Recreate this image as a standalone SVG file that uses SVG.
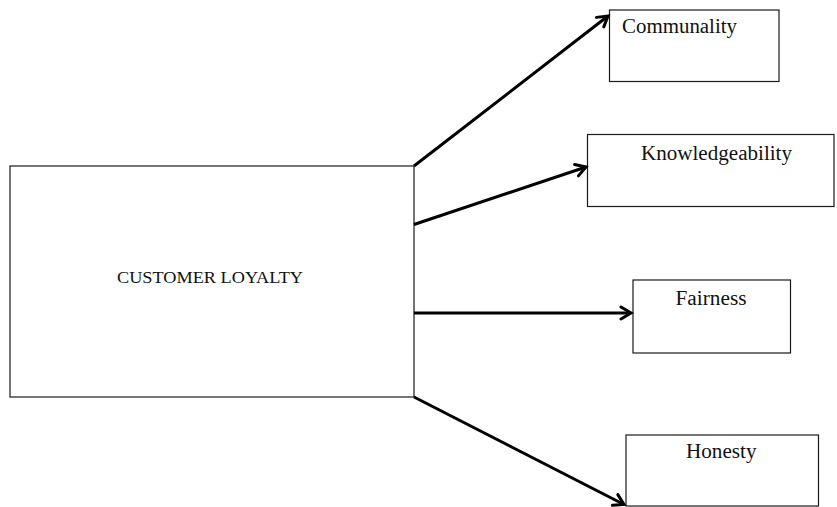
<svg xmlns="http://www.w3.org/2000/svg" width="837" height="507" viewBox="0 0 837 507">
  <style>
    .box { fill: #ffffff; stroke: #1a1a1a; stroke-width: 1.2; }
    .lbl { font-family: "Liberation Serif", "Times New Roman", serif; fill: #111111; }
    .conn { stroke: #000000; stroke-width: 3; fill: none; marker-end: url(#arrow); }
  </style>
  <defs>
    <marker id="arrow" markerUnits="userSpaceOnUse" viewBox="0 0 16 16" refX="13" refY="8" markerWidth="16" markerHeight="16" orient="auto">
      <path d="M3,2 L13,8 L3,14" fill="none" stroke="#000000" stroke-width="3" stroke-linejoin="miter" stroke-linecap="round"/>
    </marker>
  </defs>
  <rect width="837" height="507" fill="#ffffff"/>

  <g id="customer-loyalty">
    <rect class="box" x="10" y="166" width="404" height="231"/>
    <text class="lbl" x="117" y="283" font-size="17.5" textLength="186" lengthAdjust="spacingAndGlyphs">CUSTOMER LOYALTY</text>
  </g>

  <g id="communality">
    <rect class="box" x="609.5" y="10" width="169.5" height="71.5"/>
    <text class="lbl" x="622" y="33" font-size="20" textLength="115" lengthAdjust="spacingAndGlyphs">Communality</text>
  </g>

  <g id="knowledgeability">
    <rect class="box" x="587.5" y="134.5" width="246.5" height="72"/>
    <text class="lbl" x="641" y="159.5" font-size="20" textLength="151" lengthAdjust="spacingAndGlyphs">Knowledgeability</text>
  </g>

  <g id="fairness">
    <rect class="box" x="633" y="280" width="157.5" height="73"/>
    <text class="lbl" x="675.5" y="305" font-size="20" textLength="71" lengthAdjust="spacingAndGlyphs">Fairness</text>
  </g>

  <g id="honesty">
    <rect class="box" x="626" y="435" width="192.5" height="71"/>
    <text class="lbl" x="686" y="458" font-size="20" textLength="70.5" lengthAdjust="spacingAndGlyphs">Honesty</text>
  </g>

  <g id="connectors">
    <line class="conn" x1="414" y1="166" x2="608" y2="16"/>
    <line class="conn" x1="414" y1="224.5" x2="586" y2="167"/>
    <line class="conn" x1="414" y1="313" x2="631" y2="313"/>
    <line class="conn" x1="414" y1="397" x2="624" y2="504.5"/>
  </g>
</svg>
